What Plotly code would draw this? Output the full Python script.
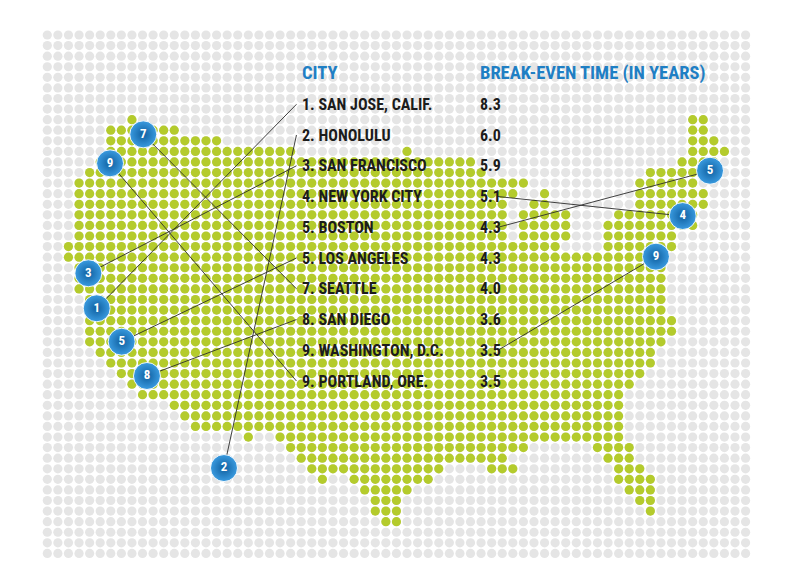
import plotly.graph_objects as go

# ---------------- data ----------------
N_COLS = 67
N_ROWS = 50
# land (green) runs of the dot map, per grid row: (first_col, last_col)
LAND_RUNS = {
    8: [(8, 8), (61, 62)],
    9: [(6, 12), (61, 62)],
    10: [(6, 16), (61, 63)],
    11: [(6, 23), (34, 34), (61, 64)],
    12: [(5, 40), (60, 63)],
    13: [(4, 41), (57, 62)],
    14: [(3, 45), (56, 61)],
    15: [(3, 44), (47, 47), (56, 62)],
    16: [(3, 43), (46, 47), (56, 62)],
    17: [(3, 43), (45, 49), (54, 61)],
    18: [(3, 43), (45, 49), (53, 61)],
    19: [(3, 43), (45, 49), (53, 59)],
    20: [(2, 48), (53, 59)],
    21: [(2, 57)],
    22: [(3, 58)],
    23: [(3, 58)],
    24: [(3, 58)],
    25: [(4, 58)],
    26: [(4, 58)],
    27: [(4, 59)],
    28: [(4, 59)],
    29: [(4, 58)],
    30: [(5, 57)],
    31: [(6, 57)],
    32: [(7, 56)],
    33: [(8, 55)],
    34: [(9, 54)],
    35: [(12, 54)],
    36: [(13, 54)],
    37: [(14, 54)],
    38: [(19, 19), (22, 54)],
    39: [(23, 45), (52, 55)],
    40: [(24, 43), (53, 55)],
    41: [(25, 37), (42, 44), (54, 56)],
    42: [(26, 26), (29, 36), (54, 57)],
    43: [(30, 34), (55, 57)],
    44: [(31, 33), (56, 57)],
    45: [(31, 33), (57, 57)],
    46: [(32, 33)],
}

CITIES = ["1. SAN JOSE, CALIF.", "2. HONOLULU", "3. SAN FRANCISCO", "4. NEW YORK CITY",
          "5. BOSTON", "5. LOS ANGELES", "7. SEATTLE", "8. SAN DIEGO",
          "9. WASHINGTON, D.C.", "9. PORTLAND, ORE."]
YEARS = [8.3, 6.0, 5.9, 5.1, 4.3, 4.3, 4.0, 3.6, 3.5, 3.5]
RANKS = ["1", "2", "3", "4", "5", "5", "7", "8", "9", "9"]
# city marker location on the dot map (grid col, grid row)
CITY_COL = [4.67, 16.70, 3.88, 60.06, 62.64, 7.03, 9.07, 9.42, 57.53, 5.93]
CITY_ROW = [25.83, 40.93, 22.52, 17.11, 12.83, 28.99, 9.39, 32.23, 20.95, 12.13]
LINK_TO = ["city", "city", "city", "value", "value", "city", "city", "city", "value", "city"]

HEADERS = ["CITY", "BREAK-EVEN TIME (IN YEARS)"]

# ---------------- layout helpers ----------------
W, H = 800, 582
X0, Y0, PITCH = 47.3, 35.0, 10.58       # pixel position of grid (0,0) and spacing
TABLE_ROW0, TABLE_STEP = 6.55, 2.906    # grid rows of table lines
HEADER_ROW = 3.62
CITY_X, VALUE_X = 23.9, 40.7
CITY_LINK_X, VALUE_LINK_X = 23.55, 42.6

GRAY = "#e5e5e5"
GREEN = "#b4cb2c"
BLUE = "#1f7fc4"
TEXT = "#1c1c1c"
FONT = ("Roboto Condensed, Liberation Sans Narrow, Arial Narrow, "
        "DejaVu Sans Condensed, Liberation Sans, sans-serif")

gx, gy = [], []
for r in range(N_ROWS):
    for c in range(N_COLS):
        gx.append(c)
        gy.append(r)

lx, ly = [], []
for r, runs in LAND_RUNS.items():
    for a, b in runs:
        for c in range(a, b + 1):
            lx.append(c)
            ly.append(r)

fig = go.Figure()
fig.add_trace(go.Scatter(x=gx, y=gy, mode="markers",
                         marker=dict(size=9.2, color=GRAY, line=dict(width=0)),
                         hoverinfo="skip", showlegend=False))
fig.add_trace(go.Scatter(x=lx, y=ly, mode="markers",
                         marker=dict(size=9.2, color=GREEN, line=dict(width=0)),
                         hoverinfo="skip", showlegend=False))

# connector lines
for i in range(len(CITIES)):
    row_y = TABLE_ROW0 + i * TABLE_STEP
    sx = CITY_LINK_X if LINK_TO[i] == "city" else VALUE_LINK_X
    fig.add_trace(go.Scatter(x=[sx, CITY_COL[i]], y=[row_y, CITY_ROW[i]], mode="lines",
                             line=dict(color="#2b2b2b", width=0.9),
                             hoverinfo="skip", showlegend=False))

# badges
fig.add_trace(go.Scatter(x=CITY_COL, y=CITY_ROW, mode="markers+text", text=RANKS,
                         textposition="middle center",
                         textfont=dict(family=FONT, size=13, color="white", weight="bold"),
                         marker=dict(size=27, color="#3a9be0",
                                     gradient=dict(type="radial", color="#0f5f9f"),
                                     line=dict(color="rgba(255,255,255,0.9)", width=1)),
                         hoverinfo="skip", showlegend=False))

ann = []
ann.append(dict(x=CITY_X, y=HEADER_ROW, text=HEADERS[0], xanchor="left", yanchor="middle",
                showarrow=False, font=dict(family=FONT, size=18.5, color=BLUE, weight="bold")))
ann.append(dict(x=VALUE_X, y=HEADER_ROW, text=HEADERS[1], xanchor="left", yanchor="middle",
                showarrow=False, font=dict(family=FONT, size=18.5, color=BLUE, weight="bold")))
for i, (city, yrs) in enumerate(zip(CITIES, YEARS)):
    row_y = TABLE_ROW0 + i * TABLE_STEP
    ann.append(dict(x=CITY_X, y=row_y, text=city, xanchor="left", yanchor="middle",
                    showarrow=False, font=dict(family=FONT, size=16, color=TEXT, weight="bold")))
    ann.append(dict(x=VALUE_X, y=row_y, text=f"{yrs:.1f}", xanchor="left", yanchor="middle",
                    showarrow=False, font=dict(family=FONT, size=16, color=TEXT, weight="bold")))

fig.update_layout(
    width=W, height=H,
    margin=dict(l=0, r=0, t=0, b=0),
    paper_bgcolor="white", plot_bgcolor="white",
    xaxis=dict(range=[-X0 / PITCH, (W - X0) / PITCH], visible=False, fixedrange=True),
    yaxis=dict(range=[(H - Y0) / PITCH, -Y0 / PITCH], visible=False, fixedrange=True),
    annotations=ann,
    showlegend=False,
)

fig.write_html("out.html", config={"displayModeBar": False},
               post_script="document.body.style.margin='0';document.body.style.overflow='hidden';")
